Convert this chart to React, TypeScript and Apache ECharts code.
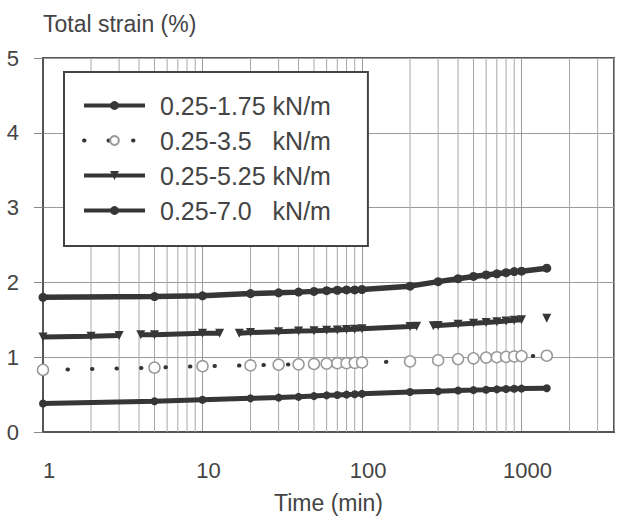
import React, { useEffect, useRef } from 'react';
import * as echarts from 'echarts';

const seriesNames = ['0.25-1.75 kN/m', '0.25-3.5   kN/m', '0.25-5.25 kN/m', '0.25-7.0   kN/m'];
const times = [1, 5, 10, 20, 30, 40, 50, 60, 70, 80, 90, 100, 200, 300, 400, 500, 600, 700, 800, 900, 1000, 1440];
const strain175 = [0.38, 0.41, 0.43, 0.45, 0.46, 0.47, 0.48, 0.49, 0.495, 0.5, 0.505, 0.51, 0.535, 0.545, 0.555, 0.56, 0.565, 0.57, 0.575, 0.578, 0.58, 0.585];
const strain35 = [0.83, 0.86, 0.88, 0.89, 0.9, 0.905, 0.91, 0.915, 0.92, 0.92, 0.925, 0.93, 0.945, 0.96, 0.975, 0.985, 0.995, 1.0, 1.005, 1.01, 1.015, 1.02];
const times525 = [1, 2, 3, 3.5, 4.1, 5, 10, 12.8, 15, 17, 20, 30, 40, 50, 60, 70, 80, 90, 100, 200, 220, 250, 280, 300, 400, 500, 600, 700, 800, 900, 1000, 1200, 1440];
const strain525 = [1.27, 1.28, 1.29, null, 1.3, 1.3, 1.32, 1.32, null, 1.32, 1.33, 1.34, 1.35, 1.355, 1.36, 1.365, 1.37, 1.375, 1.38, 1.41, 1.415, null, 1.42, 1.425, 1.44, 1.455, 1.465, 1.475, 1.485, 1.495, 1.5, null, 1.52];
const strain70 = [1.8, 1.81, 1.82, 1.85, 1.86, 1.87, 1.88, 1.89, 1.895, 1.9, 1.9, 1.905, 1.95, 2.01, 2.05, 2.08, 2.1, 2.115, 2.13, 2.145, 2.15, 2.19];
const xTickLabels = ['1', '10', '100', '1000'];
const minorGridTimes = [2, 3, 4, 5, 6, 7, 8, 9, 20, 30, 40, 50, 60, 70, 80, 90, 200, 300, 400, 500, 600, 700, 800, 900, 2000, 3000];

const FONT = '"Liberation Sans", Arial, Helvetica, sans-serif';
const INK = '#363636';
const TXT = '#444';

const pairs = (xs: number[], ys: (number | null)[]) => xs.map((x, i) => [x, ys[i]]);

export default function App() {
  const ref = useRef<HTMLDivElement>(null);
  useEffect(() => {
    if (!ref.current) return;
    const chart = echarts.init(ref.current, undefined, { renderer: 'svg' });
    chart.setOption({
      animation: false,
      backgroundColor: '#fff',
      textStyle: { fontFamily: FONT },
      grid: { left: 43, top: 58, right: 2, bottom: 78, show: true, borderColor: '#555', borderWidth: 2, containLabel: false },
      legend: {
        data: seriesNames,
        orient: 'vertical',
        left: 64,
        top: 72,
        selectedMode: false,
        backgroundColor: '#fff',
        borderColor: '#444',
        borderWidth: 2,
        borderRadius: 0,
        padding: [21, 37, 23, 18],
        itemWidth: 61,
        itemHeight: 11,
        itemGap: 10,
        lineStyle: { width: 4 },
        textStyle: { fontSize: 25, color: TXT, fontFamily: FONT, lineHeight: 24, padding: [0, 0, 0, 10] },
      },
      xAxis: {
        type: 'log',
        logBase: 10,
        min: 1,
        max: 3800,
        name: 'Time (min)',
        nameLocation: 'middle',
        nameGap: 59,
        nameTextStyle: { fontSize: 23, color: TXT, fontFamily: FONT },
        axisLine: { show: true, lineStyle: { color: '#555', width: 2 } },
        axisTick: { show: false },
        axisLabel: {
          fontSize: 22,
          color: TXT,
          margin: 27,
          padding: [0, 0, 0, 12],
          fontFamily: FONT,
          formatter: (v: number) => {
            const s = String(Math.round(v));
            return xTickLabels.includes(s) && Math.abs(v - Math.round(v)) < 1e-6 ? s : '';
          },
        },
        splitLine: { show: true, lineStyle: { color: '#9a9a9a', width: 1 } },
      },
      yAxis: {
        type: 'value',
        min: 0,
        max: 5,
        interval: 1,
        name: 'Total strain (%)',
        nameLocation: 'end',
        nameGap: 34,
        nameTextStyle: { fontSize: 23, color: TXT, align: 'left', verticalAlign: 'middle', fontFamily: FONT },
        axisLine: { show: true, lineStyle: { color: '#555', width: 2 } },
        axisTick: { show: true, length: 9, lineStyle: { color: '#888' } },
        axisLabel: { fontSize: 22, color: TXT, margin: 24, padding: [6, 0, 0, 0], fontFamily: FONT },
        splitLine: { show: true, lineStyle: { color: '#9a9a9a', width: 1 } },
      },
      series: [
        {
          type: 'custom',
          name: 'minor-grid',
          silent: true,
          z: 1,
          data: minorGridTimes.map((t) => [t, 0]),
          encode: { x: 0, y: 1 },
          renderItem: (_p: any, api: any) => {
            const t = api.value(0);
            const a = api.coord([t, 0]);
            const b = api.coord([t, 5]);
            return {
              type: 'line',
              shape: { x1: a[0], y1: a[1], x2: b[0], y2: b[1] },
              style: { stroke: '#a8a8a8', lineWidth: 1 },
            };
          },
        },
        {
          type: 'line',
          name: seriesNames[0],
          data: pairs(times, strain175),
          symbol: 'circle',
          symbolSize: 8,
          showAllSymbol: true,
          lineStyle: { color: INK, width: 5 },
          itemStyle: { color: INK },
        },
        {
          type: 'line',
          name: seriesNames[1],
          data: pairs(times, strain35),
          symbol: 'circle',
          symbolSize: 11,
          showAllSymbol: true,
          lineStyle: { color: INK, width: 4, type: [0.5, 24], cap: 'round' },
          itemStyle: { color: '#fff', borderColor: '#999', borderWidth: 1.5 },
        },
        {
          type: 'line',
          name: seriesNames[2],
          data: pairs(times525, strain525),
          connectNulls: false,
          symbol: 'triangle',
          symbolRotate: 180,
          symbolSize: 9,
          showAllSymbol: true,
          lineStyle: { color: INK, width: 5 },
          itemStyle: { color: INK },
        },
        {
          type: 'line',
          name: seriesNames[3],
          data: pairs(times, strain70),
          symbol: 'circle',
          symbolSize: 9,
          showAllSymbol: true,
          lineStyle: { color: INK, width: 5.5 },
          itemStyle: { color: INK },
        },
      ],
    });
    return () => chart.dispose();
  }, []);
  return <div ref={ref} style={{ position: 'fixed', left: 0, top: 0, width: 617, height: 519, background: '#fff' }} />;
}
